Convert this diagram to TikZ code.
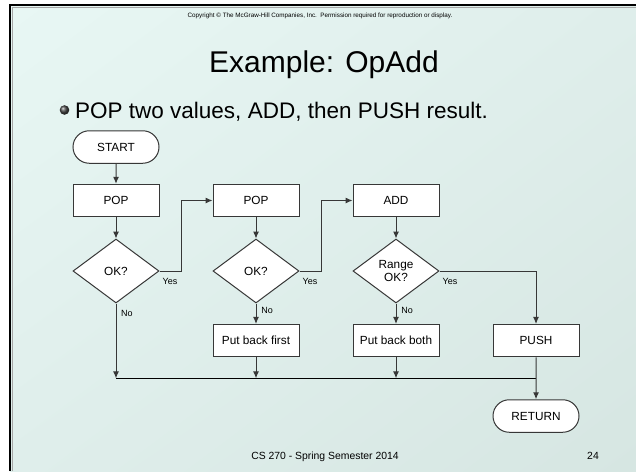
\documentclass[tikz,border=0pt]{standalone}
\usepackage{fontspec}
\setmainfont{Liberation Sans}
\usetikzlibrary{shapes.geometric,shapes.misc,arrows.meta,shadings}
\definecolor{slidetl}{RGB}{232,247,244}
\definecolor{slidemid}{RGB}{223,238,235}
\definecolor{slidebr}{RGB}{214,230,226}
\definecolor{flowline}{RGB}{55,55,55}
\tikzset{
  box/.style={draw=flowline, fill=white, line width=1pt, minimum width=86pt, minimum height=32.5pt, inner sep=0pt, font=\fontsize{11.8}{13}\selectfont},
  term/.style={box, rounded rectangle},
  test/.style={box, diamond, minimum height=64pt, align=center, font=\fontsize{11.8}{12.5}\selectfont},
  flow/.style={draw=flowline, line width=1pt, -{Latex[length=7pt,width=6pt]}},
  lbl/.style={font=\fontsize{9}{10}\selectfont, inner sep=0pt}
}
\begin{document}
\begin{tikzpicture}[x=1pt, y=-1pt]

  \useasboundingbox (0,0) rectangle (636,471);

  % slide background and frame
  \shade[upper left=slidetl, upper right=slidemid, lower left=slidemid, lower right=slidebr]
    (10,5) rectangle (636,471);
  \draw[gray!70, line width=1pt] (12,471) -- (12,7) -- (636,7);
  \draw[black, line width=2.2pt] (9.6,471) -- (9.6,4.6) -- (636,4.6);

  \node[font=\fontsize{6.3}{7}\selectfont] (copy) at (320,16)
    {Copyright \textcopyright{} The McGraw-Hill Companies, Inc.\ \ Permission required for reproduction or display.};
  \node[font=\fontsize{30}{34}\selectfont, anchor=base] (title) at (324,72.7) {Example: OpAdd};
  \shade[ball color=gray!55!black] (64.5,110) circle (4.8pt);
  \node[font=\fontsize{22.5}{26}\selectfont, anchor=base west, inner sep=0pt] (point) at (75,118)
    {POP two values, ADD, then PUSH result.};

  \newcommand\Yb{378.3}

  \node[term] (start) at (116,147) {START};
  \node[box] (pop1) at (116,200.5) {POP};
  \node[test] (ok1) at (116,271) {OK?};

  \node[box] (pop2) at (256,200.5) {POP};
  \node[test] (ok2) at (256,271) {OK?};
  \node[box] (back1) at (256,340.7) {Put back first};

  \node[box] (add) at (396,200.5) {ADD};
  \node[test] (ok3) at (396,271) {Range\\OK?};
  \node[box] (back2) at (396,340.7) {Put back both};

  \node[box] (push) at (536,340.7) {PUSH};
  \node[term] (ret) at (536,416) {RETURN};

  \coordinate (j1) at (116,\Yb);
  \coordinate (j2) at (256,\Yb);
  \coordinate (j3) at (396,\Yb);
  \coordinate (j4) at (536,\Yb);

  \draw[flow] (start) -- (pop1);
  \draw[flow] (pop1) -- (ok1);
  \draw[flow] (ok1.east) -- ++(21.7,0) |- (pop2.west);
  \draw[flow] (pop2) -- (ok2);
  \draw[flow] (ok2.east) -- ++(21.7,0) |- (add.west);
  \draw[flow] (add) -- (ok3);
  \draw[flow] (ok3.east) -| (push.north);

  \draw[flow] (ok1.south) -- (j1);
  \draw[flow] (ok2.south) -- (back1);
  \draw[flow] (ok3.south) -- (back2);
  \draw[flow] (back1) -- (j2);
  \draw[flow] (back2) -- (j3);
  \draw[black, line width=1pt] (j1) -- (j4);
  \draw[flow] (push) -- (ret);

  \node[lbl] (yes1) at (170,281) {Yes};
  \node[lbl] (yes2) at (310,281) {Yes};
  \node[lbl] (yes3) at (450,281) {Yes};
  \node[lbl] (no1) at (127,313) {No};
  \node[lbl] (no2) at (267,310) {No};
  \node[lbl] (no3) at (407,310) {No};

  \node[font=\fontsize{10.4}{12}\selectfont, anchor=base] (foot) at (325,459.5) {CS 270 - Spring Semester 2014};
  \node[font=\fontsize{10.4}{12}\selectfont, anchor=base] (page) at (593,459.5) {24};

\end{tikzpicture}
\end{document}
